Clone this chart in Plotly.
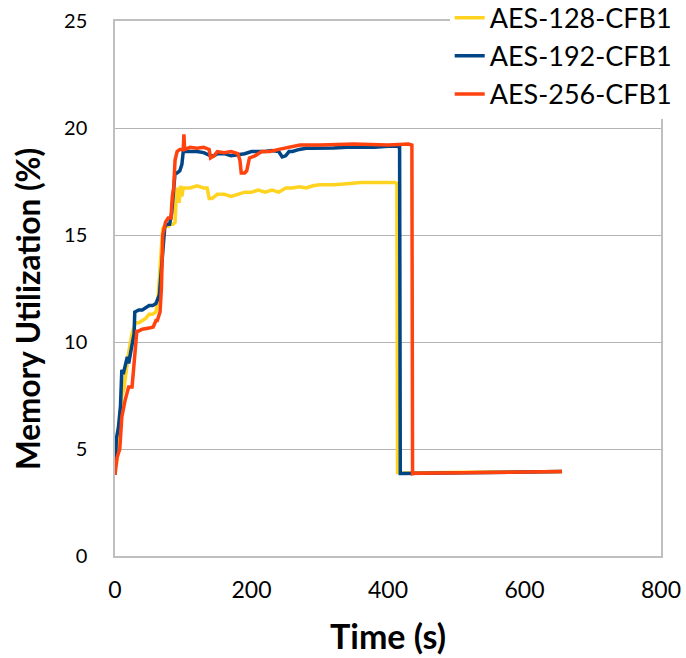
import plotly.graph_objects as go

# ---- data ----
time_128 = [0, 2, 5, 8, 10, 13, 15, 18, 20, 25, 28, 30, 35, 40, 45, 50, 55, 60, 63, 66,
            68, 70, 72, 75, 78, 80, 85, 88, 90, 92, 94, 96, 98, 100, 110, 120, 130, 135, 138, 142,
            150, 160, 170, 180, 190, 200, 210, 220, 230, 240, 250, 260, 270, 280, 290, 300, 320, 340, 360, 380,
            400, 410, 413, 414, 420, 450, 500, 550, 600, 655]
mem_128 = [5.6, 4.3, 5.0, 6.5, 7.5, 7.8, 8.3, 9.0, 9.5, 10.4, 10.8, 10.9, 10.9, 11.0, 11.1, 11.3, 11.3, 11.4, 12.0, 13.5,
           14.5, 15.3, 15.4, 15.4, 15.4, 15.5, 15.5, 15.6, 17.0, 17.2, 16.5, 17.3, 16.8, 17.2, 17.2, 17.3, 17.2, 17.2, 16.7, 16.7,
           16.9, 16.9, 16.8, 16.9, 17.0, 17.0, 17.1, 17.0, 17.1, 17.0, 17.2, 17.2, 17.25, 17.2, 17.3, 17.35, 17.35, 17.4, 17.45, 17.45,
           17.45, 17.45, 17.4, 3.9, 3.88, 3.88, 3.9, 3.92, 3.93, 3.95]

time_192 = [0, 2, 5, 8, 10, 12, 15, 18, 20, 23, 25, 28, 29, 35, 40, 45, 50, 55, 60, 65,
            68, 70, 73, 76, 80, 83, 86, 88, 91, 95, 98, 100, 110, 120, 130, 140, 145, 150, 160, 170,
            180, 190, 200, 210, 220, 230, 240, 245, 250, 255, 260, 270, 280, 290, 300, 320, 340, 360, 380, 400,
            413, 417, 418, 420, 436, 500, 600, 655]
mem_192 = [3.8, 5.5, 6.0, 7.0, 8.7, 8.5, 8.9, 9.3, 9.0, 9.5, 10.0, 10.4, 11.4, 11.5, 11.5, 11.6, 11.7, 11.7, 11.8, 12.2,
           13.5, 14.5, 15.4, 15.5, 15.5, 16.0, 17.2, 17.9, 17.9, 18.0, 18.3, 18.9, 18.9, 18.9, 18.85, 18.7, 18.7, 18.8, 18.8, 18.7,
           18.75, 18.8, 18.9, 18.9, 18.9, 18.95, 18.9, 18.65, 18.7, 18.9, 18.9, 19.0, 19.05, 19.05, 19.07, 19.07, 19.1, 19.1, 19.1, 19.15,
           19.15, 19.1, 3.85, 3.85, 3.86, 3.88, 3.92, 3.95]

time_256 = [0, 3, 7, 10, 15, 20, 25, 28, 30, 32, 34, 40, 50, 56, 60, 62, 66, 68, 70, 74,
            78, 82, 84, 86, 88, 91, 95, 100, 101, 102, 110, 120, 130, 138, 140, 145, 150, 160, 170, 180,
            183, 185, 190, 193, 197, 205, 215, 227, 240, 256, 271, 300, 350, 400, 430, 435, 436, 437, 440, 500,
            550, 600, 655]
mem_256 = [3.8, 4.6, 5.0, 6.5, 7.3, 7.9, 7.9, 8.9, 9.6, 10.5, 10.5, 10.6, 10.65, 10.7, 11.0, 11.0, 11.4, 12.5, 15.0, 15.6,
           15.8, 15.8, 16.8, 17.2, 18.5, 18.9, 19.0, 19.0, 19.7, 19.0, 19.1, 19.05, 19.1, 19.0, 18.6, 18.7, 18.9, 18.85, 18.9, 18.8,
           18.5, 17.9, 17.9, 18.0, 18.6, 18.7, 18.9, 18.9, 19.0, 19.1, 19.2, 19.2, 19.25, 19.2, 19.25, 19.2, 3.85, 3.86, 3.87, 3.88,
           3.9, 3.92, 3.95]

series_names = ["AES-128-CFB1", "AES-192-CFB1", "AES-256-CFB1"]
series_colors = ["#FFD320", "#004586", "#FF420E"]

x_ticks = [0, 200, 400, 600, 800]
y_ticks = [0, 5, 10, 15, 20, 25]

FONT = "Lato"

fig = go.Figure()
for name, xs, ys, col in zip(series_names,
                             [time_128, time_192, time_256],
                             [mem_128, mem_192, mem_256],
                             series_colors):
    fig.add_trace(go.Scatter(x=xs, y=ys, mode="lines", name=name,
                             line=dict(color=col, width=3.5)))

fig.update_layout(
    width=686, height=658,
    margin=dict(l=115, r=25, t=21, b=102, autoexpand=False),
    paper_bgcolor="white", plot_bgcolor="white",
    font=dict(family=FONT, color="black"),
    legend=dict(x=0.613, y=1.051, xanchor="left", yanchor="top",
                bgcolor="white", font=dict(family=FONT, size=27, color="black"),
                tracegroupgap=0, itemwidth=30),
    showlegend=True,
)
fig.update_xaxes(range=[0, 800], tickvals=x_ticks, showgrid=False, zeroline=False,
                 showline=True, mirror=True, linecolor="#BFBFBF", linewidth=1.5,
                 tickfont=dict(family=FONT, size=23), ticklabelstandoff=13)
fig.update_yaxes(range=[0, 25], tickvals=y_ticks, showgrid=True, gridcolor="#B3B3B3", gridwidth=1.2,
                 zeroline=False, showline=True, mirror=True, linecolor="#BFBFBF", linewidth=1.5,
                 tickfont=dict(family=FONT, size=20), ticklabelstandoff=22)

fig.add_annotation(text="<b>Time (s)</b>", xref="paper", yref="paper", x=0.5, y=-0.1495,
                   xanchor="center", yanchor="middle", showarrow=False,
                   font=dict(family=FONT, size=34, color="black"))
fig.add_annotation(text="<b>Memory Utilization (%)</b>", xref="paper", yref="paper", x=-0.159, y=0.462,
                   xanchor="center", yanchor="middle", showarrow=False, textangle=-90,
                   font=dict(family=FONT, size=31.5, color="black"))

# remove the page's default body margin so the figure fills the window exactly
fig.write_html("out.html",
               config={"displayModeBar": False},
               post_script="document.body.style.margin='0px';document.body.style.overflow='hidden';")
